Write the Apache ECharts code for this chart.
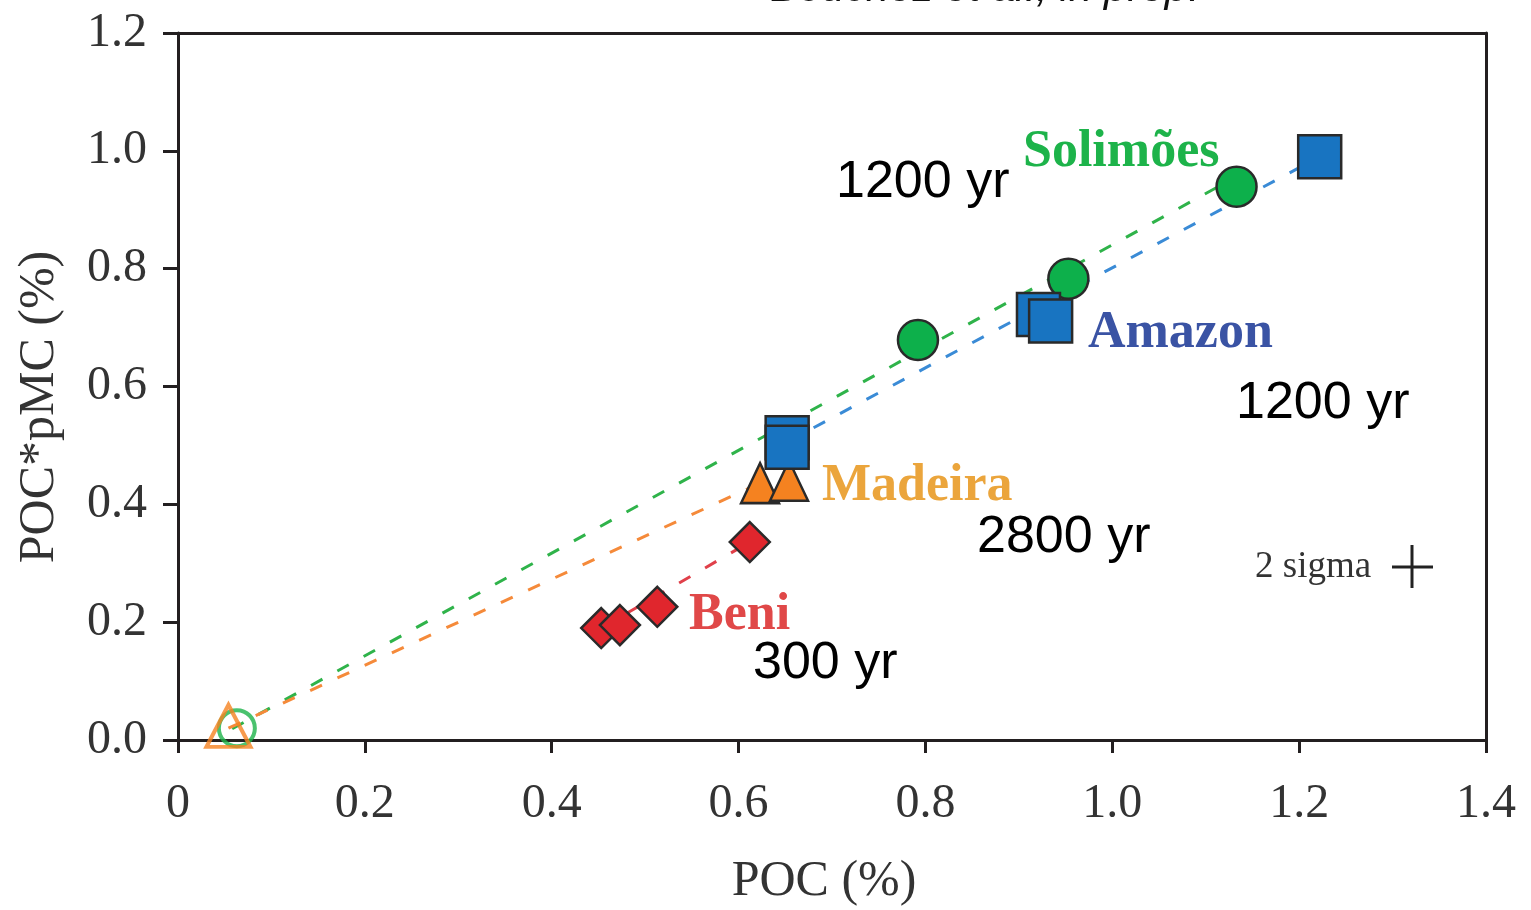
<!DOCTYPE html>
<html>
<head>
<meta charset="utf-8">
<script src="https://cdn.jsdelivr.net/npm/echarts@6/dist/echarts.min.js"></script>
<style>
  html, body { margin: 0; padding: 0; background: #fff; }
  #chart { width: 1531px; height: 910px; }
</style>
</head>
<body>
<div id="chart"></div>
<script>
// POC (%) vs POC*pMC (%) for Amazon basin rivers
const xTicks = [0, 0.2, 0.4, 0.6, 0.8, 1.0, 1.2, 1.4];
const yTicks = [0, 0.2, 0.4, 0.6, 0.8, 1.0, 1.2];

const solimoes = [[0.792, 0.679], [0.953, 0.783], [1.133, 0.939]];
const amazon = [[0.652, 0.513], [0.652, 0.497], [0.921, 0.722], [0.934, 0.711], [1.222, 0.990]];
const madeira = [[0.623, 0.436], [0.654, 0.440]];
const beni = [[0.453, 0.190], [0.473, 0.195], [0.513, 0.226], [0.612, 0.336]];
const endCircle = [[0.063, 0.020]];
const endTriangle = [[0.054, 0.024]];

// dashed mixing lines
const solimoesLine = [[0.058, 0.019], [1.120, 0.945]];
const amazonLine = [[0.652, 0.506], [1.222, 0.990]];
const madeiraLine = [[0.054, 0.020], [0.623, 0.436]];
const beniLine = [[0.453, 0.190], [0.612, 0.336]];

const serif = '"Liberation Serif", "DejaVu Serif", serif';
const sans = '"Liberation Sans", Arial, sans-serif';
const axisColor = '#231f20';

const chart = echarts.init(document.getElementById('chart'), null, { renderer: 'canvas' });

function dashed(data, color) {
  return {
    type: 'line', data: data, symbol: 'none', z: 2, silent: true,
    lineStyle: { color: color, width: 3, type: [13, 17] }
  };
}
function points(data, symbol, size, color, z) {
  return {
    type: 'scatter', data: data, symbol: symbol, symbolSize: size, z: z || 3,
    itemStyle: { color: color, borderColor: '#2a2a2a', borderWidth: 2.5, opacity: 1 }
  };
}

const option = {
  backgroundColor: '#ffffff',
  animation: false,
  grid: { left: 178, right: 45, top: 33, bottom: 170, containLabel: false },
  xAxis: [{
    type: 'value', min: 0, max: 1.4, interval: 0.2,
    axisLine: { show: true, onZero: false, lineStyle: { color: axisColor, width: 3 } },
    axisTick: { show: true, inside: false, length: 13, lineStyle: { color: axisColor, width: 3 } },
    axisLabel: {
      margin: 40, color: '#333', fontFamily: serif, fontSize: 48,
      formatter: v => (v === 0 ? '0' : v.toFixed(1))
    },
    splitLine: { show: false }
  }, {
    type: 'value', position: 'top', min: 0, max: 1.4,
    axisLine: { show: true, onZero: false, lineStyle: { color: axisColor, width: 3 } },
    axisTick: { show: false }, axisLabel: { show: false }, splitLine: { show: false }
  }],
  yAxis: [{
    type: 'value', min: 0, max: 1.2, interval: 0.2,
    axisLine: { show: true, onZero: false, lineStyle: { color: axisColor, width: 3 } },
    axisTick: { show: true, inside: false, length: 15, lineStyle: { color: axisColor, width: 3 } },
    axisLabel: {
      margin: 31, color: '#333', fontFamily: serif, fontSize: 48,
      formatter: v => v.toFixed(1)
    },
    splitLine: { show: false }
  }, {
    type: 'value', position: 'right', min: 0, max: 1.2,
    axisLine: { show: true, onZero: false, lineStyle: { color: axisColor, width: 3 } },
    axisTick: { show: false }, axisLabel: { show: false }, splitLine: { show: false }
  }],
  series: [
    dashed(solimoesLine, '#2fb34a'),
    dashed(madeiraLine, '#f58a3a'),
    dashed(beniLine, '#e0404a'),
    dashed(amazonLine, '#3a8bd6'),
    {
      type: 'scatter', data: endCircle, symbol: 'circle', symbolSize: 36, z: 3,
      itemStyle: { color: 'rgba(255,255,255,0)', borderColor: '#1db34a', borderWidth: 4 }
    },
    {
      type: 'scatter', data: endTriangle, symbol: 'triangle', symbolSize: [44, 42], z: 3,
      itemStyle: { color: 'rgba(255,255,255,0)', borderColor: '#f58220', borderWidth: 4 }
    },
    points(beni, 'diamond', 40, '#e0262d'),
    points(madeira, 'triangle', [38, 40], '#f58220'),
    points(solimoes, 'circle', 40, '#0db04b'),
    points(amazon, 'rect', 43, '#1874c1', 4)
  ],
  graphic: [
    { type: 'text', x: 985, y: -11, style: { text: 'Bouchez et al., in prep.', font: 'italic 42px ' + sans, fill: '#111', align: 'center', verticalAlign: 'middle' } },
    { type: 'text', x: 824, y: 882, style: { text: 'POC (%)', font: '50px ' + serif, fill: '#333', align: 'center', verticalAlign: 'middle' } },
    { type: 'text', x: 40, y: 407, rotation: Math.PI / 2, style: { text: 'POC*pMC (%)', font: '50px ' + serif, fill: '#333', align: 'center', verticalAlign: 'middle' } },
    { type: 'text', x: 1023, y: 153, style: { text: 'Solimões', font: 'bold 52px ' + serif, fill: '#1db34a', align: 'left', verticalAlign: 'middle' } },
    { type: 'text', x: 1088, y: 334, style: { text: 'Amazon', font: 'bold 52px ' + serif, fill: '#3a53a4', align: 'left', verticalAlign: 'middle' } },
    { type: 'text', x: 822, y: 487, style: { text: 'Madeira', font: 'bold 52px ' + serif, fill: '#eba53c', align: 'left', verticalAlign: 'middle' } },
    { type: 'text', x: 689, y: 616, style: { text: 'Beni', font: 'bold 52px ' + serif, fill: '#e04848', align: 'left', verticalAlign: 'middle' } },
    { type: 'text', x: 836, y: 183, style: { text: '1200 yr', font: '52px ' + sans, fill: '#000', align: 'left', verticalAlign: 'middle' } },
    { type: 'text', x: 1236, y: 404, style: { text: '1200 yr', font: '52px ' + sans, fill: '#000', align: 'left', verticalAlign: 'middle' } },
    { type: 'text', x: 977, y: 538, style: { text: '2800 yr', font: '52px ' + sans, fill: '#000', align: 'left', verticalAlign: 'middle' } },
    { type: 'text', x: 753, y: 664, style: { text: '300 yr', font: '52px ' + sans, fill: '#000', align: 'left', verticalAlign: 'middle' } },
    { type: 'text', x: 1255, y: 567, style: { text: '2 sigma', font: '37px ' + serif, fill: '#333', align: 'left', verticalAlign: 'middle' } },
    { type: 'line', shape: { x1: 1392, y1: 567, x2: 1433, y2: 567 }, style: { stroke: '#222', lineWidth: 3 } },
    { type: 'line', shape: { x1: 1412, y1: 545, x2: 1412, y2: 588 }, style: { stroke: '#222', lineWidth: 3 } }
  ]
};

chart.setOption(option);
</script>
</body>
</html>
